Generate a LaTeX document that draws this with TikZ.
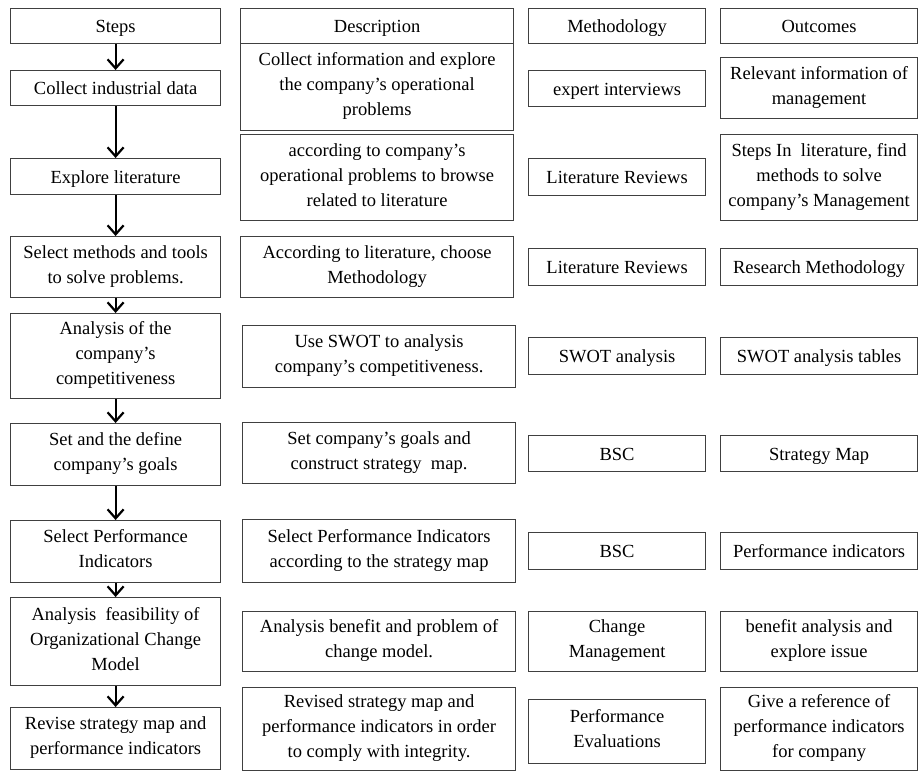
\documentclass[tikz,border=0pt]{standalone}
\usepackage{fontspec}
\setmainfont{Liberation Serif}
\usetikzlibrary{arrows.meta, positioning}
\newcommand{\topstrut}{\rule{0pt}{19pt}}
\newcommand{\botstrut}{\rule[-6pt]{0pt}{6pt}}
\tikzset{
  box/.style={draw=black!75, line width=1.2pt, align=center, inner sep=1pt,
    anchor=north west, font=\fontsize{18.5}{25}\selectfont,
    execute at begin node=\topstrut, execute at end node=\botstrut},
  stepbox/.style={box, minimum width=210pt},
  descbox/.style={box, minimum width=273pt},
  methbox/.style={box, minimum width=177pt},
  outbox/.style={box, minimum width=197pt},
  arrow/.style={line width=2.2pt, -{Straight Barb[length=9pt,width=16pt,line width=2.2pt]}}
}

\begin{document}
\begin{tikzpicture}[x=1pt, y=-1pt]
    \useasboundingbox (0,0) rectangle (918,772);

    % Headers
    \node[stepbox, minimum height=35pt] (Steps) at (10,8) {Steps};
    \node[descbox, minimum height=35pt] (Desc) at (240,8) {Description};
    \node[methbox, minimum height=35pt] (Meth) at (528,8) {Methodology};
    \node[outbox, minimum height=35pt] (Out) at (720,8) {Outcomes};

    % Steps
    \node[stepbox, minimum height=35pt] (S1) at (10,70) {Collect industrial data};
    \node[stepbox, minimum height=36pt] (S2) at (10,158) {Explore literature};
    \node[stepbox, minimum height=61pt] (S3) at (10,236) {Select methods and tools\\to solve problems.};
    \node[stepbox, minimum height=85pt] (S4) at (10,313) {Analysis of the\\company's\\competitiveness};
    \node[stepbox, minimum height=62pt] (S5) at (10,423) {Set and the define\\company's goals};
    \node[stepbox, minimum height=62pt] (S6) at (10,520) {Select Performance\\Indicators};
    \node[stepbox, minimum height=88pt] (S7) at (10,597) {Analysis \ feasibility of\\Organizational Change\\Model};
    \node[stepbox, minimum height=62pt] (S8) at (10,707) {Revise strategy map and\\performance indicators};

    % Description
    \node[descbox, minimum height=87pt] (D1) at (240,43) {Collect information and explore\\the company's operational\\problems};
    \node[descbox, minimum height=86pt] (D2) at (240,134) {according to company's\\operational problems to browse\\related to literature};
    \node[descbox, minimum height=61pt] (D3) at (240,236) {According to literature, choose\\Methodology};
    \node[descbox, minimum height=62pt] (D4) at (242,325) {Use SWOT to analysis\\company's competitiveness.};
    \node[descbox, minimum height=61pt] (D5) at (242,422) {Set company's goals and\\construct strategy \ map.};
    \node[descbox, minimum height=63pt] (D6) at (242,519) {Select Performance Indicators\\according to the strategy map};
    \node[descbox, minimum height=60pt] (D7) at (242,611) {Analysis benefit and problem of\\change model.};
    \node[descbox, minimum height=83pt] (D8) at (242,687) {Revised strategy map and\\performance indicators in order\\to comply with integrity.};

    % Methodology
    \node[methbox, minimum height=36pt] (M1) at (528,70) {expert interviews};
    \node[methbox, minimum height=37pt] (M2) at (528,158) {Literature Reviews};
    \node[methbox, minimum height=37pt] (M3) at (528,248) {Literature Reviews};
    \node[methbox, minimum height=37pt] (M4) at (528,337) {SWOT analysis};
    \node[methbox, minimum height=36pt] (M5) at (528,435) {BSC};
    \node[methbox, minimum height=37pt] (M6) at (528,532) {BSC};
    \node[methbox, minimum height=60pt] (M7) at (528,611) {Change\\Management};
    \node[methbox, minimum height=64pt] (M8) at (528,699) {Performance\\Evaluations};

    % Outcomes
    \node[outbox, minimum height=61pt] (O1) at (720,57) {Relevant information of\\management};
    \node[outbox, minimum height=86pt] (O2) at (720,134) {Steps In \ literature, find\\methods to solve\\company's Management};
    \node[outbox, minimum height=37pt] (O3) at (720,248) {Research Methodology};
    \node[outbox, minimum height=37pt] (O4) at (720,337) {SWOT analysis tables};
    \node[outbox, minimum height=36pt] (O5) at (720,435) {Strategy Map};
    \node[outbox, minimum height=37pt] (O6) at (720,532) {Performance indicators};
    \node[outbox, minimum height=60pt] (O7) at (720,611) {benefit analysis and\\explore issue};
    \node[outbox, minimum height=83pt] (O8) at (720,687) {Give a reference of\\performance indicators\\for company};

    % Edges
    \draw[arrow] (Steps) -- (S1);
    \draw[arrow] (S1) -- (S2);
    \draw[arrow] (S2) -- (S3);
    \draw[arrow] (S3) -- (S4);
    \draw[arrow] (S4) -- (S5);
    \draw[arrow] (S5) -- (S6);
    \draw[arrow] (S6) -- (S7);
    \draw[arrow] (S7) -- (S8);
\end{tikzpicture}
\end{document}
